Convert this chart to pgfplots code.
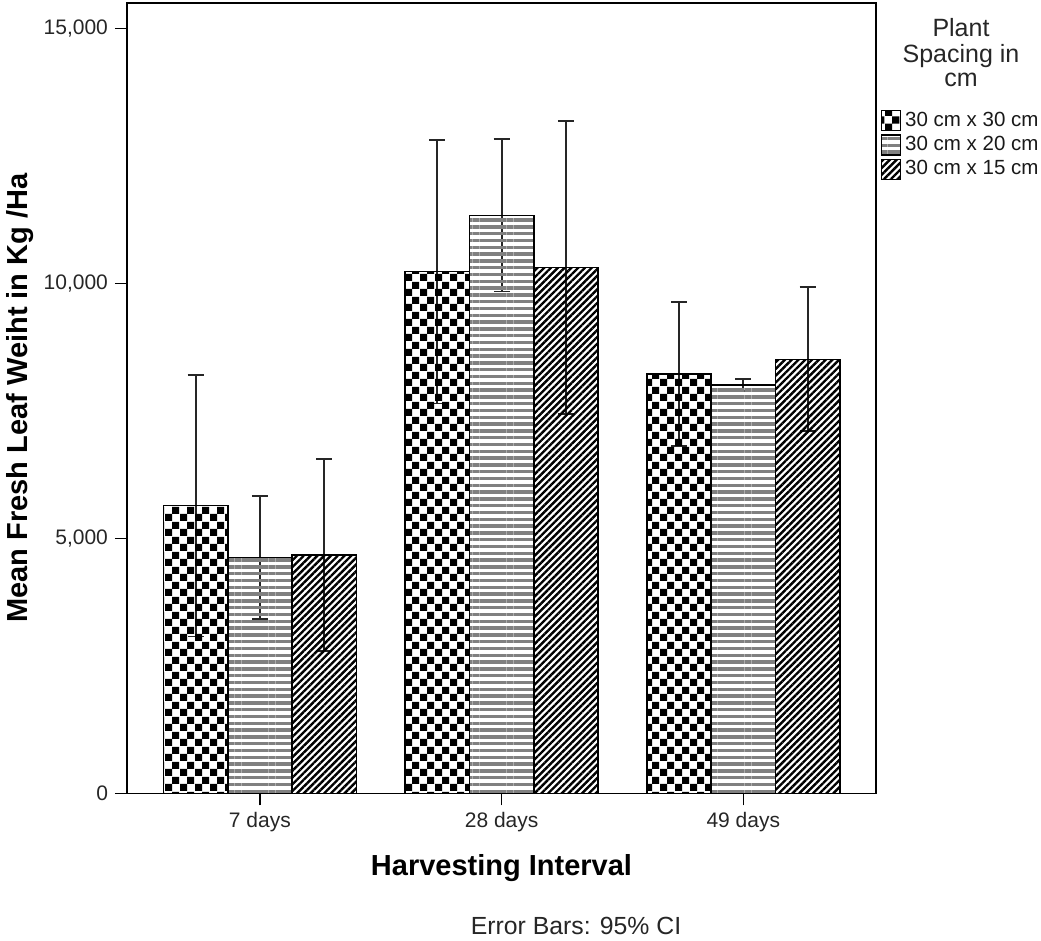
\documentclass[border=0pt]{standalone}
\usepackage{fontspec}
\setmainfont{Liberation Sans}
\usepackage{pgfplots}
\usepackage{pgfplotstable}
\pgfplotsset{compat=1.18}
\usetikzlibrary{patterns,patterns.meta}

% checkerboard fill for the 30 x 30 spacing
\pgfdeclarepatternformonly{checker}{\pgfqpoint{0pt}{0pt}}{\pgfqpoint{7.5pt}{7.5pt}}{\pgfqpoint{7.5pt}{7.5pt}}{%
  \pgfpathrectangle{\pgfqpoint{0pt}{0pt}}{\pgfqpoint{3.75pt}{3.75pt}}%
  \pgfpathrectangle{\pgfqpoint{3.75pt}{3.75pt}}{\pgfqpoint{3.75pt}{3.75pt}}%
  \pgfusepath{fill}}

% mean fresh leaf weight (kg/ha) and 95% CI half-width
\pgfplotstableread{
x mean ci
0 5643 2563
1 10231 2583
2 8225 1406
}\tblA
\pgfplotstableread{
x mean ci
0 4631 1208
1 11337 1496
2 8010 112
}\tblB
\pgfplotstableread{
x mean ci
0 4676 1883
1 10318 2874
2 8514 1411
}\tblC

\begin{document}
\begin{tikzpicture}
\path[use as bounding box] (0pt,0pt) rectangle (520.5pt,470.5pt);
\begin{axis}[
  at={(63.5pt,73.75pt)}, anchor=south west,
  scale only axis, width=374.5pt, height=395.25pt,
  xmin=-0.55, xmax=2.549, ymin=0, ymax=15500,
  ybar, bar width=32.15pt,
  axis line style={black, line width=0.75pt},
  tick style={black, line width=0.75pt},
  major tick length=6pt, tick align=outside,
  xtick={0,1,2}, xticklabels={7 days,28 days,49 days},
  ytick={0,5000,10000,15000}, yticklabels={0,{5,000},{10,000},{15,000}},
  xtick pos=bottom, ytick pos=left,
  ticklabel style={font=\fontsize{10.5}{12}\selectfont, text=black!85},
  legend style={at={(axis description cs:1,1)}, anchor=north west,
    xshift=2.5pt, yshift=-52.5pt, draw=none, fill=none,
    inner sep=0pt, outer sep=0pt, row sep=-0.5pt,
    font=\fontsize{10.25}{12}\selectfont, text=black!90},
  legend cell align=left,
  legend image code/.code={\draw[#1, line width=0.6pt] (0pt,-5pt) rectangle (9.5pt,5pt);},
  /tikz/every even column/.append style={column sep=3.6pt},
  clip=false,
]
% confidence intervals, drawn beneath the patterned bars
\addplot[draw=none, fill=none, bar shift=-32.15pt, forget plot,
  error bars/.cd, y dir=both, y explicit,
  error bar style={draw=black!85, line width=0.9pt},
  error mark options={draw=black!85, line width=0.9pt, rotate=90, mark size=4pt}]
  table[x=x, y=mean, y error=ci]{\tblA};
\addplot[draw=none, fill=none, bar shift=0pt, forget plot,
  error bars/.cd, y dir=both, y explicit,
  error bar style={draw=black!85, line width=0.9pt},
  error mark options={draw=black!85, line width=0.9pt, rotate=90, mark size=4pt}]
  table[x=x, y=mean, y error=ci]{\tblB};
\addplot[draw=none, fill=none, bar shift=32.15pt, forget plot,
  error bars/.cd, y dir=both, y explicit,
  error bar style={draw=black!85, line width=0.9pt},
  error mark options={draw=black!85, line width=0.9pt, rotate=90, mark size=4pt}]
  table[x=x, y=mean, y error=ci]{\tblC};
% bars
\addplot[draw=black, line width=0.75pt, pattern=checker, pattern color=black,
  bar shift=-32.15pt] table[x=x, y=mean]{\tblA};
\addlegendentry{30 cm x 30 cm}
\addplot[draw=black, line width=0.75pt,
  pattern={Lines[angle=0, distance=3.4pt, line width=1.7pt]}, pattern color=black!50,
  bar shift=0pt] table[x=x, y=mean]{\tblB};
\addlegendentry{30 cm x 20 cm}
\addplot[draw=black, line width=0.75pt,
  pattern={Lines[angle=45, distance=2.4pt, line width=1.2pt]}, pattern color=black,
  bar shift=32.15pt] table[x=x, y=mean]{\tblC};
\addlegendentry{30 cm x 15 cm}
\end{axis}
% titles
\node[rotate=90, font=\bfseries\fontsize{14.5}{17}\selectfont] at (10pt,271.5pt)
  {Mean Fresh Leaf Weiht in Kg /Ha};
\node[anchor=base, font=\bfseries\fontsize{14.5}{17}\selectfont] at (250.75pt,32.5pt)
  {Harvesting Interval};
\node[anchor=base, font=\fontsize{12.4}{14}\selectfont, text=black!85] at (288pt,3pt)
  {Error Bars: 95\% CI};
% legend title
\begin{scope}[every node/.style={anchor=base, font=\fontsize{12.5}{14}\selectfont, text=black!85}]
\node at (480.5pt,452.15pt) {Plant};
\node at (480.5pt,439pt) {Spacing in};
\node at (480.5pt,427.15pt) {cm};
\end{scope}
\end{tikzpicture}
\end{document}
